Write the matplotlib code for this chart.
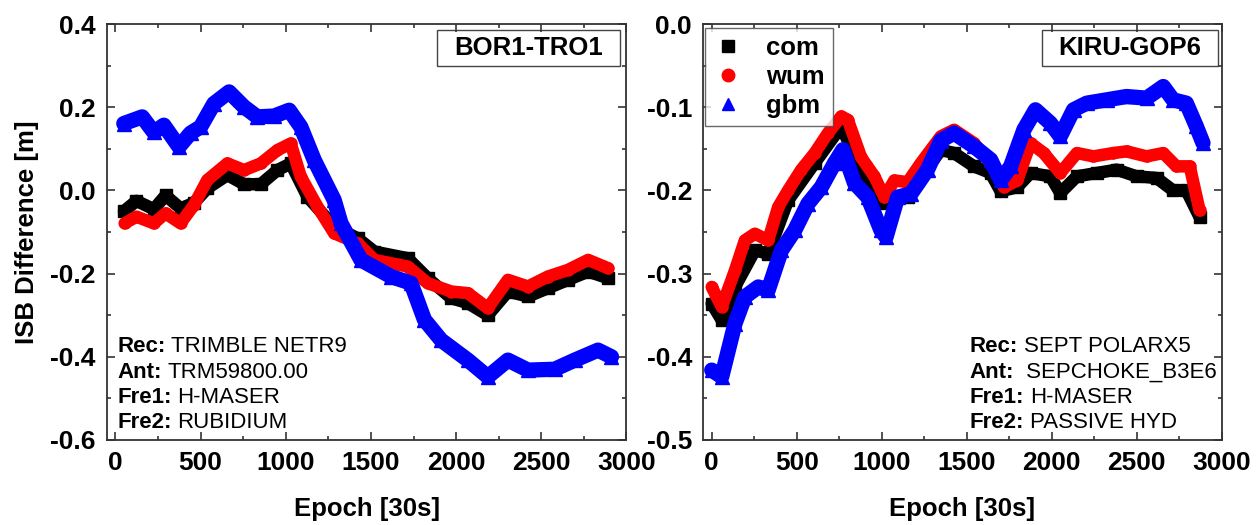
#!/usr/bin/env python3

''' ISB difference between two stations, com / wum / gbm products. '''

import matplotlib
matplotlib.use('Agg')
import matplotlib.pyplot as plt
from matplotlib.lines import Line2D
from matplotlib.ticker import MultipleLocator

plt.rcParams['font.family'] = ['Liberation Sans', 'DejaVu Sans']
plt.rcParams['axes.unicode_minus'] = False

# BOR1-TRO1 (left)
bor_com_x = [50, 123, 225, 294, 382, 461, 539, 657, 755, 853, 951, 1029, 1127, 1284,
             1422, 1520, 1716, 1833, 1971, 2069, 2186, 2304, 2422, 2539, 2657, 2775, 2892]
bor_com_y = [-0.05, -0.025, -0.045, -0.012, -0.043, -0.03, 0.005, 0.037, 0.015, 0.015, 0.049, 0.065, -0.015, -0.087,
             -0.115, -0.147, -0.163, -0.211, -0.259, -0.271, -0.300, -0.243, -0.255, -0.235, -0.215, -0.195, -0.211]

bor_wum_x = [54, 123, 225, 294, 382, 461, 539, 657, 755, 853, 951, 1029, 1088, 1186, 1284,
             1422, 1520, 1716, 1833, 1971, 2069, 2186, 2304, 2422, 2539, 2657, 2775, 2892]
bor_wum_y = [-0.079, -0.063, -0.079, -0.055, -0.079, -0.035, 0.025, 0.065, 0.049, 0.065, 0.097, 0.113, 0.033, -0.039, -0.103,
             -0.127, -0.167, -0.183, -0.223, -0.243, -0.247, -0.283, -0.215, -0.231, -0.207, -0.191, -0.167, -0.187]

bor_gbm_x = [49, 157, 225, 284, 373, 441, 500, 578, 667, 755, 833, 931, 1020, 1088, 1167, 1284,
             1324, 1441, 1618, 1735, 1814, 1912, 2069, 2186, 2304, 2422, 2578, 2696, 2833, 2912]
bor_gbm_y = [0.161, 0.177, 0.14, 0.157, 0.105, 0.138, 0.153, 0.209, 0.237, 0.201, 0.177, 0.179, 0.193, 0.153, 0.073, -0.023,
             -0.079, -0.167, -0.207, -0.223, -0.311, -0.36, -0.408, -0.448, -0.408, -0.432, -0.43, -0.408, -0.384, -0.40]

# KIRU-GOP6 (right)
kiru_com_x = [0, 59, 137, 254, 332, 449, 606, 762, 879, 1016, 1153, 1348, 1426, 1543, 1641, 1700,
              1798, 1876, 1993, 2051, 2149, 2266, 2383, 2500, 2618, 2715, 2793, 2871]
kiru_com_y = [-0.336, -0.356, -0.316, -0.272, -0.276, -0.212, -0.167, -0.123, -0.175, -0.215, -0.208, -0.151, -0.155, -0.171, -0.179, -0.201,
              -0.196, -0.179, -0.183, -0.203, -0.183, -0.179, -0.175, -0.183, -0.185, -0.200, -0.200, -0.232]

kiru_wum_x = [0, 59, 137, 195, 254, 332, 391, 449, 527, 606, 684, 762, 801, 879, 957, 1016, 1075, 1153, 1231, 1348,
              1426, 1543, 1641, 1720, 1798, 1876, 1954, 2051, 2149, 2246, 2363, 2441, 2559, 2657, 2735, 2813, 2871]
kiru_wum_y = [-0.316, -0.34, -0.296, -0.26, -0.252, -0.26, -0.22, -0.2, -0.175, -0.155, -0.131, -0.111, -0.115, -0.16, -0.183, -0.208, -0.188, -0.19, -0.167, -0.135,
              -0.127, -0.143, -0.167, -0.196, -0.188, -0.143, -0.155, -0.179, -0.155, -0.159, -0.155, -0.153, -0.159, -0.155, -0.171, -0.171, -0.224]

kiru_gbm_x = [0, 59, 137, 195, 274, 332, 410, 488, 566, 645, 723, 772, 840, 918, 996, 1026, 1094, 1172, 1270, 1348,
              1426, 1543, 1641, 1700, 1759, 1837, 1905, 1993, 2051, 2129, 2207, 2324, 2441, 2559, 2657, 2715, 2793, 2852, 2891]
kiru_gbm_y = [-0.416, -0.424, -0.36, -0.328, -0.316, -0.32, -0.272, -0.248, -0.216, -0.196, -0.167, -0.151, -0.191, -0.208, -0.248, -0.256, -0.208, -0.204, -0.175, -0.14,
              -0.131, -0.147, -0.163, -0.188, -0.171, -0.127, -0.103, -0.119, -0.135, -0.103, -0.095, -0.091, -0.087, -0.089, -0.075, -0.091, -0.095, -0.123, -0.143]

names = ['com', 'wum', 'gbm']
colors = ['black', 'red', 'blue']
markers = ['s', 'o', '^']
widths = [9, 9, 11]

FS = 18.5


def style_axes(ax, ylim, ymajor):
    ax.set_xlim(-50, 3000)
    ax.set_ylim(*ylim)
    ax.xaxis.set_major_locator(MultipleLocator(500))
    ax.xaxis.set_minor_locator(MultipleLocator(250))
    ax.yaxis.set_major_locator(MultipleLocator(ymajor))
    ax.yaxis.set_minor_locator(MultipleLocator(ymajor / 2))
    ax.tick_params(which='both', direction='in', top=True, right=True, width=1.2, colors='#333333')
    ax.tick_params(which='major', length=6, labelsize=FS + 0.5, labelcolor='black', pad=8)
    ax.tick_params(which='minor', length=3)
    for lab in ax.get_xticklabels() + ax.get_yticklabels():
        lab.set_fontweight('bold')
    for s in ax.spines.values():
        s.set_linewidth(1.3)
        s.set_color('#333333')
    ax.set_xlabel('Epoch [30s]', fontsize=FS, fontweight='bold', labelpad=16)


def draw_series(ax, xs_list, ys_list):
    for xs, ys, c, m, w in zip(xs_list, ys_list, colors, markers, widths):
        ax.plot(xs, ys, color=c, lw=w, solid_joinstyle='round', solid_capstyle='round',
                marker=m, ms=w - 1, mec=c, mfc=c)


def info_block(ax, x0, rows):
    ys = [0.224, 0.163, 0.103, 0.041]
    for (lab, val), y in zip(rows, ys):
        t = ax.text(x0, y, lab, transform=ax.transAxes, fontsize=16, fontweight='bold', va='center')
        ax.annotate(val, xy=(1, 0.5), xycoords=t, xytext=(4, 0), textcoords='offset points',
                    fontsize=16, va='center')


def name_box(ax, label, x0, x1):
    ax.text((x0 + x1) / 2, 0.943, label, transform=ax.transAxes, fontsize=FS, fontweight='bold',
            ha='center', va='center')
    ax.add_patch(plt.Rectangle((x0, 0.899), x1 - x0, 0.087, transform=ax.transAxes, fill=False,
                               lw=1.0, ec='#444444'))


fig = plt.figure(figsize=(12.58, 5.25), dpi=100)
ax1 = fig.add_axes([0.085, 0.162, 0.413, 0.792])
ax2 = fig.add_axes([0.559, 0.162, 0.412, 0.792])

draw_series(ax1, [bor_com_x, bor_wum_x, bor_gbm_x], [bor_com_y, bor_wum_y, bor_gbm_y])
style_axes(ax1, (-0.6, 0.4), 0.2)
ax1.set_ylabel('ISB Difference [m]', fontsize=FS, fontweight='bold', labelpad=8)
name_box(ax1, 'BOR1-TRO1', 0.635, 0.988)
info_block(ax1, 0.02, [('Rec:', 'TRIMBLE NETR9'), ('Ant:', 'TRM59800.00'),
                       ('Fre1:', 'H-MASER'), ('Fre2:', 'RUBIDIUM')])

draw_series(ax2, [kiru_com_x, kiru_wum_x, kiru_gbm_x], [kiru_com_y, kiru_wum_y, kiru_gbm_y])
style_axes(ax2, (-0.5, 0.0), 0.1)
name_box(ax2, 'KIRU-GOP6', 0.653, 0.994)
info_block(ax2, 0.514, [('Rec:', 'SEPT POLARX5'), ('Ant:', ' SEPCHOKE_B3E6'),
                        ('Fre1:', 'H-MASER'), ('Fre2:', 'PASSIVE HYD')])

handles = [Line2D([], [], ls='none', marker=m, color=c, ms=9) for m, c in zip(markers, colors)]
leg = ax2.legend(handles, names, loc='upper left', bbox_to_anchor=(0.003, 0.99), fancybox=False,
                 edgecolor='#444444', prop={'size': FS, 'weight': 'bold'}, handlelength=1.2,
                 handletextpad=0.9, borderpad=0.3, labelspacing=0.2, borderaxespad=0.0)
leg.get_frame().set_linewidth(1.0)

fig.savefig('out.png', dpi=100)
